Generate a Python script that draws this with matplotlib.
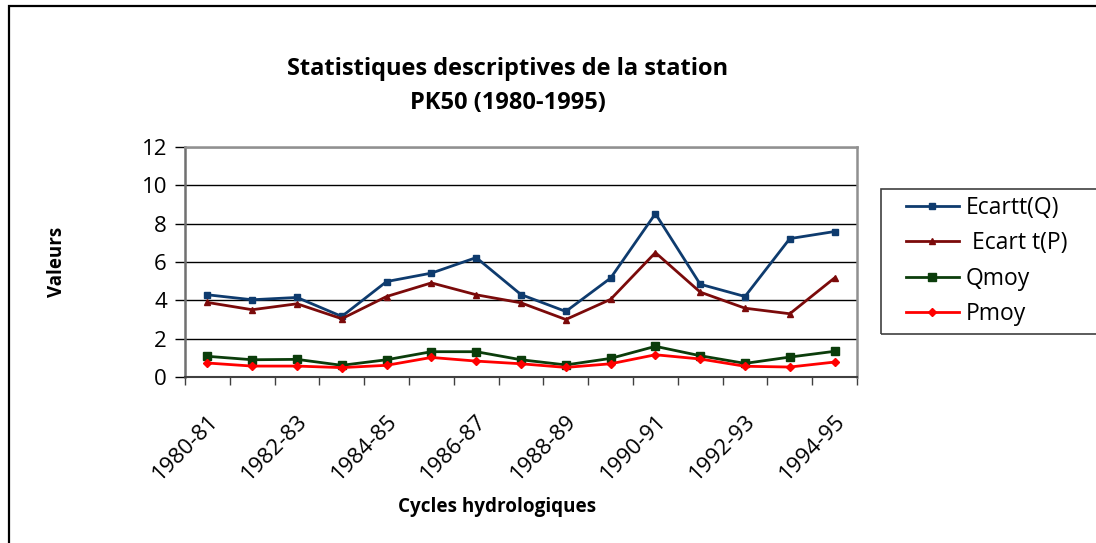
import matplotlib
matplotlib.use("Agg")
import matplotlib.pyplot as plt
from matplotlib.patches import Rectangle
import numpy as np

plt.rcParams['font.family'] = ['Open Sans', 'DejaVu Sans']

cycles = ["1980-81", "1981-82", "1982-83", "1983-84", "1984-85", "1985-86", "1986-87",
          "1987-88", "1988-89", "1989-90", "1990-91", "1991-92", "1992-93", "1993-94", "1994-95"]
ecart_q = [4.29, 4.03, 4.15, 3.16, 4.98, 5.42, 6.23, 4.30, 3.42, 5.16, 8.52, 4.84, 4.20, 7.22, 7.59]
ecart_p = [3.89, 3.51, 3.82, 3.04, 4.20, 4.91, 4.29, 3.87, 3.00, 4.05, 6.49, 4.43, 3.59, 3.30, 5.17]
qmoy = [1.08, 0.90, 0.92, 0.61, 0.90, 1.32, 1.32, 0.90, 0.63, 0.97, 1.60, 1.11, 0.71, 1.04, 1.34]
pmoy = [0.73, 0.57, 0.57, 0.49, 0.61, 1.02, 0.83, 0.69, 0.50, 0.69, 1.16, 0.94, 0.56, 0.52, 0.78]
yticks = [0, 2, 4, 6, 8, 10, 12]

series = [
    ("Ecartt(Q)", ecart_q, "#0e3b6e", "s"),
    (" Ecart t(P)", ecart_p, "#7b0a0a", "^"),
    ("Qmoy", qmoy, "#0b3d0b", "s"),
    ("Pmoy", pmoy, "#ff0000", "D"),
]

W, H = 1096, 543
fig = plt.figure(figsize=(W / 100, H / 100), dpi=100)
ax = fig.add_axes([185 / W, 1 - 377 / H, (857 - 185) / W, (377 - 147) / H])

x = np.arange(len(cycles))
handles = []
for name, vals, col, mk in series:
    ms = 5 if mk != "D" else 4
    if name == "Qmoy":
        ms = 6
    h, = ax.plot(x, vals, color=col, lw=2.0, marker=mk, ms=ms, mec=col, mfc=col, label=name,
                 zorder=3, clip_on=False)
    handles.append(h)

ax.set_xlim(-0.5, len(cycles) - 0.5)
ax.set_ylim(0, 12)
ax.set_yticks(yticks)
ax.set_yticklabels([str(v) for v in yticks], fontsize=16)
ax.tick_params(axis='y', length=7, width=1, color='black', direction='out', pad=6)

ax.set_xticks(x[::2])
ax.set_xticklabels(cycles[::2], rotation=45, ha='right', va='top', rotation_mode='anchor', fontsize=16)
ax.tick_params(axis='x', which='major', length=0, pad=24)
ax.set_xticks(np.arange(len(cycles) + 1) - 0.5, minor=True)
ax.tick_params(axis='x', which='minor', length=6, width=1, color='#404040', direction='out')

ax.yaxis.grid(True, color='black', lw=1.0)
ax.set_axisbelow(True)
for s in ['top', 'right']:
    ax.spines[s].set_color('#909090')
    ax.spines[s].set_linewidth(1.8)
ax.spines['left'].set_color('#707070')
ax.spines['left'].set_linewidth(1.8)
ax.spines['bottom'].set_color('#404040')
ax.spines['bottom'].set_linewidth(1.5)

fig.text(508 / W, 1 - 86 / H, "Statistiques descriptives de la station\nPK50 (1980-1995)",
         ha='center', va='center', fontsize=17, fontweight='bold', linespacing=1.55)
fig.text(57 / W, 1 - 262 / H, "Valeurs", rotation=90, ha='center', va='center',
         fontsize=13.5, fontweight='bold')
fig.text(497 / W, 1 - 507 / H, "Cycles hydrologiques", ha='center', va='center',
         fontsize=13.6, fontweight='bold')

fig.add_artist(Rectangle((881 / W, 1 - 334 / H), 0.5, (334 - 189) / H, transform=fig.transFigure,
                         fill=False, edgecolor='#404040', lw=1.2))
leg = fig.legend(handles=handles, loc='upper left',
                 bbox_to_anchor=(906 / W, 1 - 196 / H),
                 fontsize=16.5, frameon=False,
                 handlelength=2.3, handletextpad=0.3, labelspacing=0.5,
                 borderaxespad=0, borderpad=0)

fig.add_artist(Rectangle((9 / W, -0.2), 1.5, (1 - 6 / H) + 0.2, transform=fig.transFigure,
                         fill=False, edgecolor='black', lw=1.6))

fig.savefig("out.png", dpi=100)
